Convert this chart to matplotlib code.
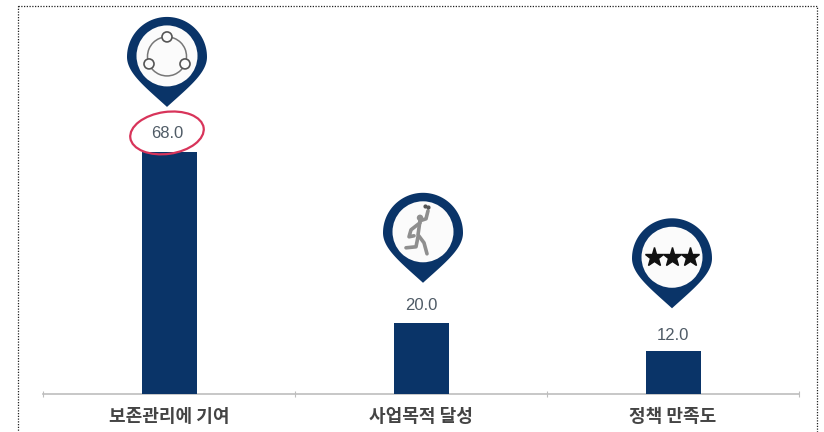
import numpy as np
import matplotlib
matplotlib.use("Agg")
import matplotlib.pyplot as plt
from matplotlib.patches import Circle, Ellipse, Polygon, Arc, Rectangle

plt.rcParams['font.family'] = ['Noto Sans CJK KR', 'DejaVu Sans']

categories = ['보존관리에 기여', '사업목적 달성', '정책 만족도']
values = [68.0, 20.0, 12.0]

NAVY = '#0a3468'
W, H = 824, 432

# pixel offsets of the pin tips from the top of each bar
pin_dx = [-2, 2, -1]
pin_dy = [45, 40, 43]
label_dy = [18, 17, 16]


def draw_pin(ov, cx, tip_y, r=40, r_in=30.5):
    """Map pin: round top, lower half tapering to a point, white circle inside."""
    cy = tip_y - 50
    # upper half of the circle
    a = np.linspace(np.pi, 2 * np.pi, 60)
    top = np.column_stack([r * np.cos(a), r * np.sin(a)])
    # cubic curve from the equator down to the tip
    t = np.linspace(0, 1, 40)[:, None]
    p0, c1, c2, p3 = np.array([[r, 0], [r, 16], [22, 30], [0, 50]], dtype=float)
    side = (1 - t) ** 3 * p0 + 3 * t * (1 - t) ** 2 * c1 + 3 * t ** 2 * (1 - t) * c2 + t ** 3 * p3
    outline = np.vstack([top, side, (side * [-1, 1])[::-1]]) + [cx, cy]
    ov.add_patch(Polygon(outline, closed=True, fc=NAVY, ec='none', zorder=3))
    ov.add_patch(Circle((cx, cy - 1), r_in, fc='#fbfbfb', ec='none', zorder=4))
    return cx, cy


def icon_network(ov, cx, cy):
    ov.add_patch(Arc((cx, cy - 0.5), 39, 39, theta1=0, theta2=360, ec='#777777', lw=1.1, zorder=5))
    for px, py in [(cx, cy - 20), (cx - 18, cy + 7), (cx + 18, cy + 7)]:
        ov.add_patch(Circle((px, py), 5, fc='#fbfbfb', ec='#555555', lw=1.2, zorder=6))


def icon_runner(ov, cx, cy):
    kw = dict(color='#8f8f8f', lw=2.6, solid_capstyle='round', zorder=5)
    ov.plot([cx - 3, cx - 5, cx + 1, cx + 4], [cy - 12, cy + 2, cy + 10, cy + 21], **kw)
    ov.plot([cx - 5, cx - 7, cx - 17], [cy + 4, cy + 14, cy + 15], **kw)
    ov.plot([cx - 3, cx - 12, cx - 14, cx - 9], [cy - 10, cy - 3, cy + 4, cy + 3], **kw)
    ov.plot([cx - 3, cx + 3, cx + 5], [cy - 12, cy - 14, cy - 22], **kw)
    ov.add_patch(Circle((cx - 3, cy - 15), 3.2, fc='#8f8f8f', ec='none', zorder=5))
    ov.plot([cx + 2, cx + 5], [cy - 27, cy - 26], 'o', color='#555555', ms=2, zorder=5)


def icon_stars(ov, cx, cy):
    ov.plot([cx - 18, cx, cx + 18], [cy - 1, cy - 1, cy - 1], ls='none', marker='*',
            ms=14, mfc='#111111', mec='#111111', zorder=5)


icons = [icon_network, icon_runner, icon_stars]

fig = plt.figure(figsize=(W / 100, H / 100), dpi=100, facecolor='white')

# chart axes: baseline at y=394, x from 43 to 799
ax = fig.add_axes([43 / W, (H - 394) / H, 756 / W, 388 / H])
ax.patch.set_alpha(0)
x = np.arange(len(categories))
ax.bar(x, values, width=55 / 252, color=NAVY, zorder=4)
ax.set_xlim(-0.5, 2.5)
ax.set_ylim(0, 388 / 3.56)
ax.set_yticks([])
for s in ['top', 'left', 'right']:
    ax.spines[s].set_visible(False)
ax.spines['bottom'].set_color('#bdbdbd')
ax.spines['bottom'].set_linewidth(1.2)
ax.set_xticks(np.arange(-0.5, 3.0, 1.0))
ax.set_xticklabels([])
ax.tick_params(axis='x', which='major', length=4, color='#bdbdbd', direction='inout')
ax.set_xticks(x, minor=True)
ax.set_xticklabels(categories, minor=True, fontsize=13, color='#444444', fontweight='bold')
ax.tick_params(axis='x', which='minor', length=0, pad=9)

# overlay in image pixels for pins and frame
ov = fig.add_axes([0, 0, 1, 1], zorder=5)
ov.set_xlim(0, W)
ov.set_ylim(H, 0)
ov.axis('off')
ov.patch.set_alpha(0)

ov.add_patch(Rectangle((18, 6), 799, 440, fill=False, ec='#222222', lw=0.9, ls=(0, (1, 1.2))))

for i, v in enumerate(values):
    px, py = ax.transData.transform((x[i], v))
    bar_x, bar_top = px, H - py
    cx, cy = draw_pin(ov, bar_x + pin_dx[i], bar_top - pin_dy[i])
    icons[i](ov, cx, cy)
    ov.text(bar_x - 2 if i == 0 else bar_x, bar_top - label_dy[i], f'{v:.1f}', ha='center', va='center',
            fontsize=12, color='#4f5b66', family=['Liberation Sans', 'DejaVu Sans'], zorder=6)
    if i == 0:
        # red hand-drawn circle around the top value
        ov.add_patch(Ellipse((bar_x - 2, bar_top - 19), 74, 42, angle=-8, fill=False,
                             ec='#d8345a', lw=1.6, zorder=3))

fig.savefig('out.png', dpi=100, facecolor='white')
